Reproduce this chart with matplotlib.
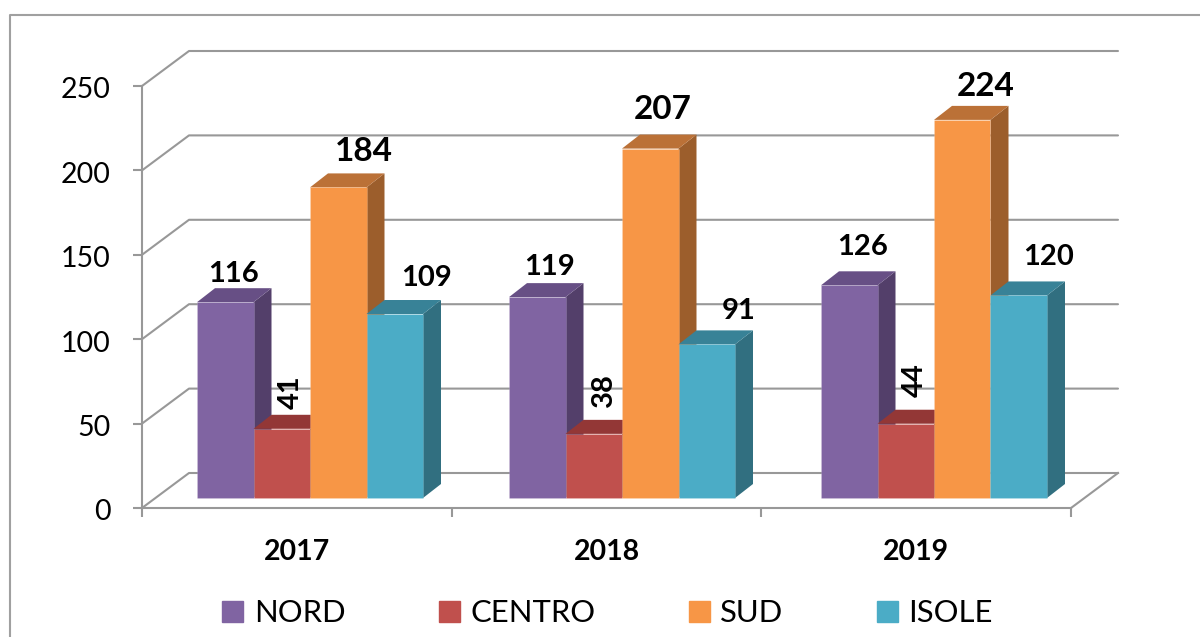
import matplotlib
matplotlib.use("Agg")
import matplotlib.pyplot as plt
from matplotlib.lines import Line2D
from matplotlib.patches import Patch, Polygon
from matplotlib.ticker import FixedLocator
from matplotlib.transforms import ScaledTranslation

plt.rcParams['font.family'] = ['Lato', 'DejaVu Sans']

years = ['2017', '2018', '2019']
series_names = ['NORD', 'CENTRO', 'SUD', 'ISOLE']
nord = [116, 119, 126]
centro = [41, 38, 44]
sud = [184, 207, 224]
isole = [109, 91, 120]
y_ticks = [0, 50, 100, 150, 200, 250]

series = [nord, centro, sud, isole]
front_colors = ['#8064A2', '#C0504D', '#F79646', '#4BACC6']
top_colors = ['#674F85', '#933736', '#BB7137', '#388297']
side_colors = ['#533F6A', '#7F3230', '#9C5E2C', '#316F80']

# label offsets in pixels from the top centre of each bar's front face
label_dx = [[8, 12, 13], [9, 10, 9], [26, 12, 23], [32, 32, 30]]
label_dy = [[28, 30, 38], [37, 44, 44], [36, 39, 33], [36, 33, 38]]

W, H = 1200, 637
fig = plt.figure(figsize=(W / 100, H / 100), dpi=100, facecolor='white')
L, R, T, B = 142, 1071, 86, 508
ax = fig.add_axes([L / W, (H - B) / H, (R - L) / W, (B - T) / H])
ax.set_xlim(0, 3)
ax.set_ylim(0, 250)
PX = 3 / (R - L)
PY = 250 / (B - T)
GREY = '#989898'
LW = 1.5

# outer chart frame
fig.add_artist(Line2D([10 / W, 10 / W, 1], [0, 1 - 15 / H, 1 - 15 / H],
                      color='#A0A0A0', lw=1.5, transform=fig.transFigure))

# walls and floor
WALL_X, WALL_Y = 47 * PX, 35 * PY
for v in y_ticks:
    ax.plot([0, WALL_X, 3 + WALL_X], [v, v + WALL_Y, v + WALL_Y],
            color=GREY, lw=LW, clip_on=False, zorder=1, solid_capstyle='round')
ax.plot([3, 3 + WALL_X], [0, WALL_Y], color=GREY, lw=LW, clip_on=False, zorder=1)

# bars
BAR_W = 56.5 * PX
START_X = 55 * PX
PITCH = 312 * PX
BASE_Y = 10 * PY
DEPTH_X, DEPTH_Y = 18 * PX, 14 * PY
z = 2


def bar_left(g, s):
    return START_X + g * PITCH + s * BAR_W


for g in range(len(years)):
    for s, vals in enumerate(series):
        v = vals[g]
        x0 = bar_left(g, s)
        x1 = x0 + BAR_W
        y0, y1 = BASE_Y, BASE_Y + v
        ax.add_patch(Polygon([(x1, y0), (x1 + DEPTH_X, y0 + DEPTH_Y),
                              (x1 + DEPTH_X, y1 + DEPTH_Y), (x1, y1)],
                             fc=side_colors[s], ec='none', clip_on=False, zorder=z))
        ax.add_patch(Polygon([(x0, y1), (x0 + DEPTH_X, y1 + DEPTH_Y),
                              (x1 + DEPTH_X, y1 + DEPTH_Y), (x1, y1)],
                             fc=top_colors[s], ec='none', clip_on=False, zorder=z))
        ax.bar(x0, v, width=BAR_W, bottom=BASE_Y, align='edge', color=front_colors[s],
               edgecolor=(1, 1, 1, 0.15), linewidth=0.6, clip_on=False, zorder=z)
        z += 0.01

# data labels
for g in range(len(years)):
    for s, vals in enumerate(series):
        v = vals[g]
        xc = bar_left(g, s) + BAR_W / 2
        size = 24 if s == 2 else 21
        rot = 90 if s == 1 else 0
        ax.annotate(str(v), xy=(xc, BASE_Y + v), annotation_clip=False,
                    xytext=(label_dx[s][g] * 0.72, label_dy[s][g] * 0.72),
                    textcoords='offset points', ha='center', va='center',
                    fontsize=size, fontweight='bold', rotation=rot,
                    rotation_mode='anchor', color='black', zorder=10)

# axes
for side in ('top', 'right'):
    ax.spines[side].set_visible(False)
for side in ('left', 'bottom'):
    ax.spines[side].set_color(GREY)
    ax.spines[side].set_linewidth(LW)
ax.set_yticks(y_ticks)
ax.tick_params(axis='y', length=6.5, width=LW, color=GREY, pad=16, labelsize=20.5)
shift = ScaledTranslation(0, -2 / 100, fig.dpi_scale_trans)
for lab in ax.get_yticklabels():
    lab.set_transform(lab.get_transform() + shift)
ax.set_xticks([0, 1, 2, 3])
ax.set_xticklabels([])
ax.tick_params(axis='x', which='major', length=6.5, width=LW, color=GREY)
ax.xaxis.set_minor_locator(FixedLocator([0.5, 1.5, 2.5]))
ax.set_xticklabels(years, minor=True, fontsize=20.5, fontweight='bold')
ax.tick_params(axis='x', which='minor', length=0, pad=22.5)
ax.patch.set_alpha(0)

# legend
handles = [Patch(color=c, label=n) for c, n in zip(front_colors, series_names)]
fig.legend(handles=handles, loc='center', bbox_to_anchor=(607.5 / W, 1 - 613 / H), ncols=4,
           frameon=False, fontsize=22.3, handlelength=0.68, handleheight=0.68,
           handletextpad=0.33, columnspacing=3.02, borderpad=0, borderaxespad=0)

fig.savefig('out.png', dpi=100)
